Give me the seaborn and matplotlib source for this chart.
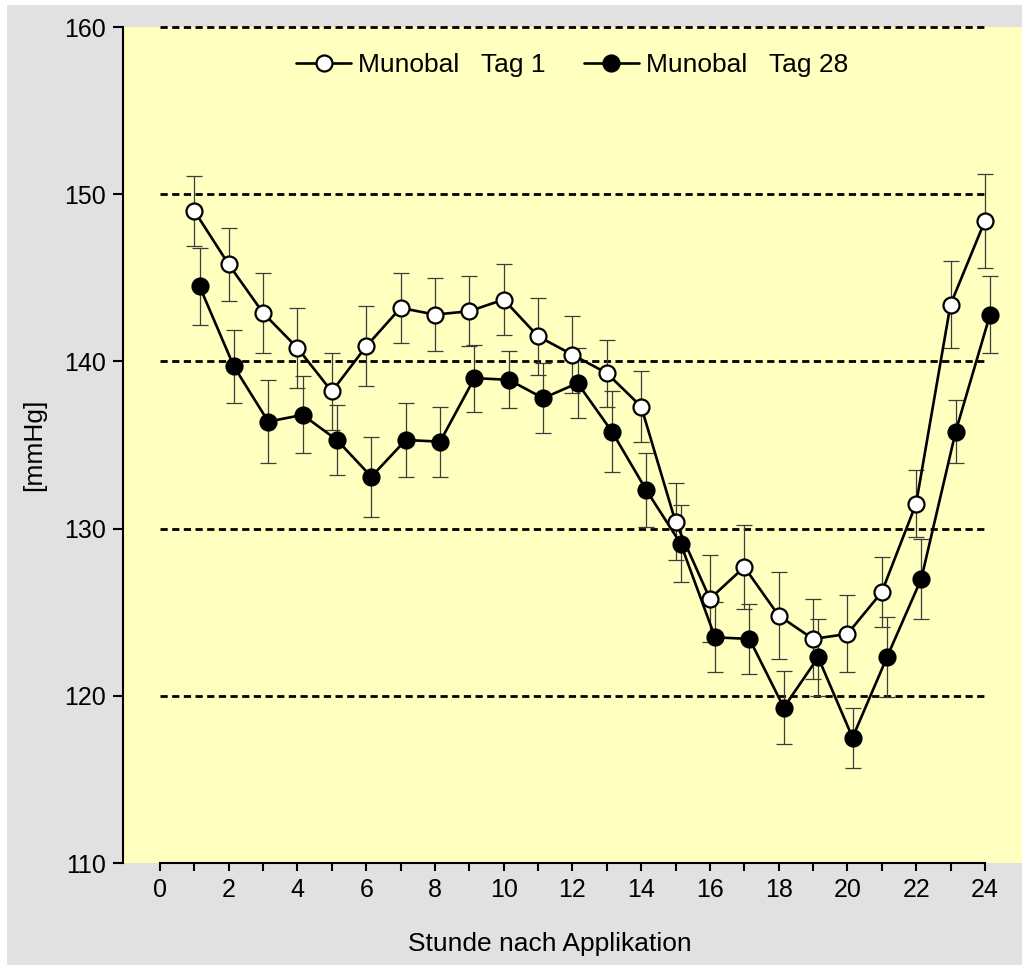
import numpy as np
import pandas as pd
import matplotlib
matplotlib.use("Agg")
import matplotlib.pyplot as plt
from matplotlib.patches import Rectangle
from matplotlib.lines import Line2D
import seaborn as sns

# Hourly mean blood pressure (mmHg) with standard errors
hours = list(range(1, 25))
tag1_mean = [149.0, 145.8, 142.9, 140.8, 138.2, 140.9, 143.2, 142.8, 143.0, 143.7, 141.5, 140.4,
             139.3, 137.3, 130.4, 125.8, 127.7, 124.8, 123.4, 123.7, 126.2, 131.5, 143.4, 148.4]
tag1_se = [2.1, 2.2, 2.4, 2.4, 2.3, 2.4, 2.1, 2.2, 2.1, 2.1, 2.3, 2.3,
           2.0, 2.1, 2.3, 2.6, 2.5, 2.6, 2.4, 2.3, 2.1, 2.0, 2.6, 2.8]
tag28_mean = [144.5, 139.7, 136.4, 136.8, 135.3, 133.1, 135.3, 135.2, 139.0, 138.9, 137.8, 138.7,
              135.8, 132.3, 129.1, 123.5, 123.4, 119.3, 122.3, 117.5, 122.3, 127.0, 135.8, 142.8]
tag28_se = [2.3, 2.2, 2.5, 2.3, 2.1, 2.4, 2.2, 2.1, 2.0, 1.7, 2.1, 2.1,
            2.4, 2.2, 2.3, 2.1, 2.1, 2.2, 2.3, 1.8, 2.4, 2.4, 1.9, 2.3]
series_labels = ["Munobal   Tag 1", "Munobal   Tag 28"]
x_ticks = list(range(0, 25, 2))
y_ticks = [110, 120, 130, 140, 150, 160]
x_label = "Stunde nach Applikation"
y_label = "[mmHg]"

sns.set_style("ticks")
plt.rcParams["font.family"] = ["Liberation Sans", "DejaVu Sans"]
plt.rcParams.update({"text.color": "black", "axes.labelcolor": "black",
                     "xtick.color": "black", "ytick.color": "black"})
FS_TICK = 18
FS_TEXT = 19

W, H = 1022, 965
fig = plt.figure(figsize=(W / 100, H / 100), dpi=100, facecolor="white")
fig.patches.append(Rectangle((7 / W, 0), 1 - 7 / W, (H - 5) / H, transform=fig.transFigure,
                             facecolor="#e1e1e1", edgecolor="none", zorder=-10))

ax = fig.add_axes([123 / W, 102 / H, (W - 123) / W, (863 - 27) / H])
ax.set_facecolor("#ffffc0")

df = pd.DataFrame({
    "hour": hours * 2,
    "mmHg": tag1_mean + tag28_mean,
    "se": tag1_se + tag28_se,
    "series": [series_labels[0]] * len(hours) + [series_labels[1]] * len(hours),
})
# small horizontal dodge so the two series do not hide each other
dodge = {series_labels[0]: 0.0, series_labels[1]: 0.15}
df["xpos"] = df["hour"] + df["series"].map(dodge)

# dashed reference lines
ax.hlines(y_ticks[1:], 0, 24, colors="black", linestyles=(0, (2.6, 1.6)), lw=2.0,
          zorder=1, clip_on=False)

face = {series_labels[0]: "white", series_labels[1]: "black"}
for name in [series_labels[1], series_labels[0]]:
    sub = df[df["series"] == name]
    ax.errorbar(sub["xpos"], sub["mmHg"], yerr=sub["se"], fmt="none", ecolor="#3c3c3c",
                elinewidth=0.9, capsize=5.5, capthick=0.9, zorder=2)
    sns.lineplot(data=sub, x="xpos", y="mmHg", ax=ax, color="black", lw=1.9, marker="o",
                 markersize=11.5, markerfacecolor=face[name], markeredgecolor="black",
                 markeredgewidth=1.6, errorbar=None, legend=False, zorder=3)

handles = [Line2D([], [], color="black", lw=1.9, marker="o", markersize=11.5,
                  markerfacecolor=face[n], markeredgecolor="black", markeredgewidth=1.6)
           for n in series_labels]
ax.legend(handles, series_labels, loc="center left", bbox_to_anchor=(296 / W, 1 - 65 / H),
          bbox_transform=fig.transFigure, ncol=2, frameon=False, fontsize=FS_TEXT,
          handlelength=2.1, handletextpad=0.25, columnspacing=1.45, borderpad=0,
          borderaxespad=0, labelcolor="black")

ax.set_xlim(-1.076, 25.08)
ax.set_ylim(110, 160)
ax.set_xticks(x_ticks)
ax.set_xticks(hours, minor=True)
ax.set_yticks(y_ticks)
ax.tick_params(axis="x", which="both", direction="out", length=6, width=1.5,
               labelsize=FS_TICK, pad=5, color="black", labelcolor="black")
ax.tick_params(axis="y", which="major", direction="out", length=7.5, width=1.5,
               labelsize=FS_TICK, pad=5, color="black", labelcolor="black")

for s in ["top", "right"]:
    ax.spines[s].set_visible(False)
for s in ["left", "bottom"]:
    ax.spines[s].set_linewidth(1.5)
    ax.spines[s].set_color("black")
ax.spines["bottom"].set_bounds(0, 24)

ax.set_xlabel(x_label, fontsize=FS_TEXT, color="black")
ax.set_ylabel(y_label, fontsize=FS_TEXT, color="black")
ax.xaxis.set_label_coords(0.475, -0.082)
ax.yaxis.set_label_coords(-0.085, 0.5)

fig.savefig("out.png", dpi=100, facecolor=fig.get_facecolor())
